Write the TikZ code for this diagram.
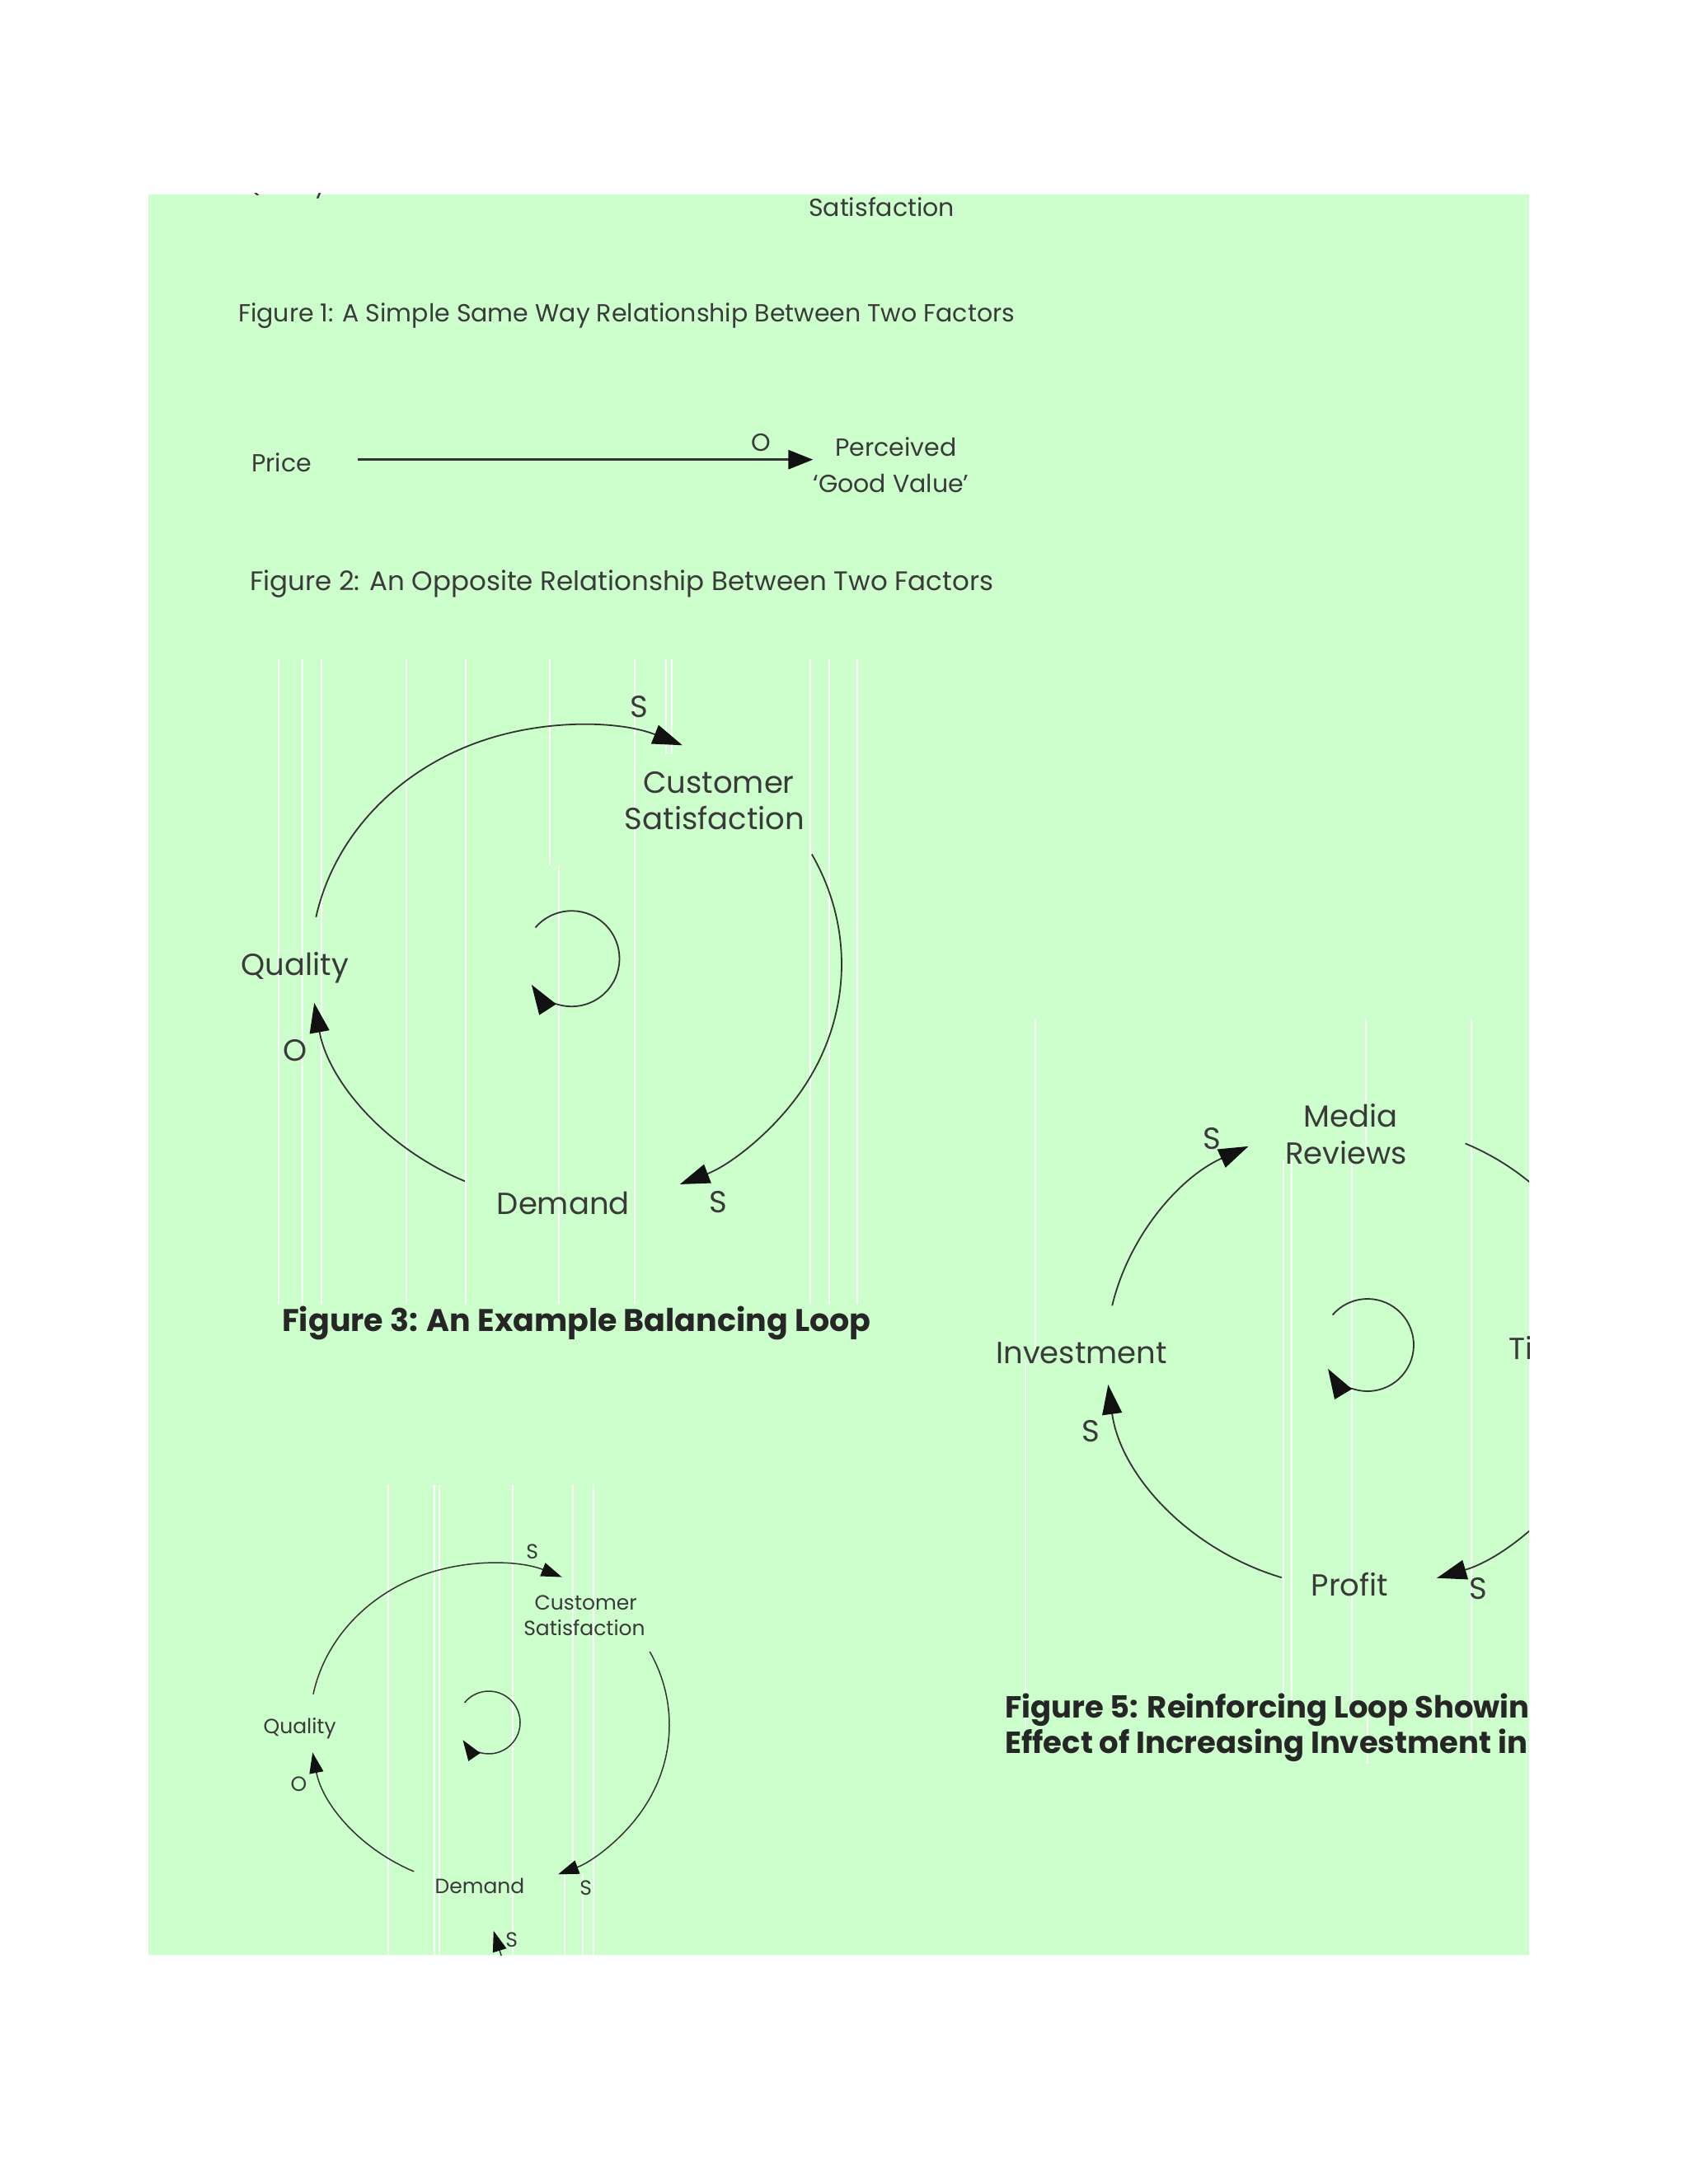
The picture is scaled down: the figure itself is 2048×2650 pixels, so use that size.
\documentclass[tikz,border=0pt]{standalone}
\usepackage{fontspec}
\setmainfont{Poppins}
\usetikzlibrary{arrows.meta,calc}
\definecolor{bg}{HTML}{CCFFCC}
\definecolor{ink}{HTML}{3A3A3A}
\definecolor{ln}{HTML}{333333}
\definecolor{tip}{HTML}{111111}
\begin{document}
\begin{tikzpicture}[x=1pt,y=-1pt,
  lab/.style={inner sep=0pt, text depth=0pt, text=ink},
  f30/.style={font=\fontsize{30}{36}\selectfont, text height=21pt},
  f32/.style={font=\fontsize{32.5}{38}\selectfont, text height=22.75pt},
  f37/.style={font=\fontsize{37}{44}\selectfont, text height=25.9pt},
  f25/.style={font=\fontsize{25}{30}\selectfont, text height=17.5pt},
  capb/.style={text=black!85, inner sep=0pt, text depth=0pt, anchor=west},
  cb38/.style={font=\fontsize{38}{45}\selectfont\bfseries, text height=26.6pt},
  cb37/.style={font=\fontsize{37}{44}\selectfont\bfseries, text height=25.9pt},
  arrone/.style={draw=ln, line width=3pt, -{Triangle[length=30pt,width=23pt,color=tip]}},
  loopa/.style={draw=ln, line width=1.8pt, -{Triangle[length=36pt,width=24pt,color=tip]}},
  loopl/.style={draw=ln, line width=1.8pt},
  loopsm/.style={draw=ln, line width=1.5pt, -{Triangle[length=25pt,width=17pt,color=tip]}},
  stripe/.style={draw=white, line width=2.5pt},
]
\fill[white] (0,0) rectangle (2048,2650);
\useasboundingbox (0,0) rectangle (2048,2650);
\fill[bg] (180,236) rectangle (1855,2372);

% stripes figure 3
\foreach \sx in {338,367,390,493,565,770,983,1006,1040}{\draw[stripe] (\sx,800) -- (\sx,1582);}
\draw[stripe] (667,800) -- (667,1050);
\draw[stripe] (678,1050) -- (678,1582);
\draw[stripe] (808,800) -- (808,915);
\draw[stripe] (815,800) -- (815,915);
% stripes figure 5
\draw[stripe] (1256,1237) -- (1256,1650);
\draw[stripe] (1244,1650) -- (1244,2097);
\draw[stripe] (1657,1237) -- (1657,1407);
\foreach \sx in {1557,1567,1640}{\draw[stripe] (\sx,1407) -- (\sx,2063);}
\draw[stripe] (1785,1237) -- (1785,2135);
\draw[stripe] (1659,2083) -- (1659,2140);
% stripes figure 4
\foreach \sx in {471,527,533,622,720}{\draw[stripe] (\sx,1801) -- (\sx,2372);}
\draw[stripe] (695,1801) -- (695,2274);
\draw[stripe] (685,2274) -- (685,2372);
\draw[stripe] (707,2274) -- (707,2372);

\begin{scope}
\clip (180,234) rectangle (1855,2372);
% ---------- Figure 1 (remnant) ----------
\node[lab,f30] (q1) at (345,222.5) {Quality};
\node[lab,f30] (sat1) at (1069.6,251.7) {Satisfaction};
\node[lab,f30,anchor=west] (cap1) at (289,380) {Figure 1: A Simple Same Way Relationship Between Two Factors};
% ---------- Figure 2 ----------
\node[lab,f30] (price) at (341.7,561.7) {Price};
\node[lab,f30] (pgv1) at (1087,543.3) {Perceived};
\node[lab,f30] (pgv2) at (1081,586.7) {`Good Value'};
\node[lab,f30] (o1) at (923.7,536.7) {O};
\path (price.east) ++(56,-4) coordinate (a1s);
\draw[arrone] (a1s) -- (a1s -| pgv2.west);
\node[lab,f32,anchor=west] (cap2) at (303,705) {Figure 2: An Opposite Relationship Between Two Factors};

% ---------- Figure 3 ----------
\coordinate (c3) at (699,1170);
\coordinate (l3) at (693.5,1163.2);
\node[lab,f37] (s31) at (775,858) {S};
\node[lab,f37] (cs3a) at (872,949.6) {Customer};
\node[lab,f37] (cs3b) at (867,993.4) {Satisfaction};
\node[lab,f37] (q3) at (357.8,1170.6) {Quality};
\node[lab,f37] (o3) at (357.8,1274.6) {O};
\node[lab,f37] (d3) at (683.3,1460.8) {Demand};
\node[lab,f37] (s32) at (871,1458.6) {S};
\draw[loopa] ($(c3)+(-168.6:322 and 290)$) arc[start angle=-168.6,end angle=-66.4,x radius=322,y radius=290];
\draw[loopa] ($(c3)+(-27.4:322 and 290)$) arc[start angle=-27.4,end angle=67,x radius=322,y radius=290];
\draw[loopa] ($(c3)+(114.8:322 and 290)$) arc[start angle=114.8,end angle=170.7,x radius=322,y radius=290];
\draw[loopa] ($(l3)+(-139.4:58)$) arc[start angle=-139.4,end angle=147,radius=58];
\node[capb,cb38] (cap3) at (342,1602) {Figure 3: An Example Balancing Loop};

% ---------- Figure 4 ----------
\coordinate (c4) at (594,2093);
\coordinate (l4) at (593,2090);
\node[lab,f25] (s41) at (645.7,1882.6) {S};
\node[lab,f25] (cs4a) at (710.7,1945) {Customer};
\node[lab,f25] (cs4b) at (709,1976) {Satisfaction};
\node[lab,f25] (q4) at (363.6,2094.6) {Quality};
\node[lab,f25] (o4) at (362.5,2164.6) {O};
\node[lab,f25] (d4) at (582,2289) {Demand};
\node[lab,f25] (s42) at (710.7,2291) {S};
\node[lab,f25] (s43) at (620.7,2354) {S};
\draw[loopsm] ($(c4)+(-169:218 and 196)$) arc[start angle=-169,end angle=-66.3,x radius=218,y radius=196];
\draw[loopsm] ($(c4)+(-27:218 and 196)$) arc[start angle=-27,end angle=67.6,x radius=218,y radius=196];
\draw[loopsm] ($(c4)+(114.9:218 and 196)$) arc[start angle=114.9,end angle=170.2,x radius=218,y radius=196];
\draw[loopsm] ($(l4)+(-140.7:38)$) arc[start angle=-140.7,end angle=146,radius=38];
\coordinate (b4) at (615,2395);
\draw[loopsm, shorten >=47pt] (b4) -- (d4);

% ---------- Figure 5 ----------
\coordinate (c5) at (1650,1645);
\coordinate (l5) at (1659,1632);
\node[lab,f37] (mr1) at (1638.8,1355) {Media};
\node[lab,f37] (mr2) at (1633,1400) {Reviews};
\node[lab,f37] (s51) at (1470.5,1381.7) {S};
\node[lab,f37] (inv) at (1312,1641.7) {Investment};
\node[lab,f37,anchor=west] (ti) at (1830.5,1637) {Ticket Sales};
\node[lab,f37] (s52) at (1323,1736.7) {S};
\node[lab,f37] (pr) at (1637.5,1923.3) {Profit};
\node[lab,f37] (s53) at (1793.6,1928) {S};
\draw[loopa] ($(c5)+(-167.6:308 and 283)$) arc[start angle=-167.6,end angle=-116.1,x radius=308,y radius=283];
\draw[loopl] ($(c5)+(-65.5:308 and 283)$) arc[start angle=-65.5,end angle=-30,x radius=308,y radius=283];
\draw[loopa] ($(c5)+(30:308 and 283)$) arc[start angle=30,end angle=72.4,x radius=308,y radius=283];
\draw[loopa] ($(c5)+(108:308 and 283)$) arc[start angle=108,end angle=172.9,x radius=308,y radius=283];
\draw[loopa] ($(l5)+(-139.3:56)$) arc[start angle=-139.3,end angle=149,radius=56];
\node[capb,cb37] (cap5a) at (1219,2072) {Figure 5: Reinforcing Loop Showing the};
\node[capb,cb37] (cap5b) at (1219,2115) {Effect of Increasing Investment in Quality};
\end{scope}
\end{tikzpicture}
\end{document}
